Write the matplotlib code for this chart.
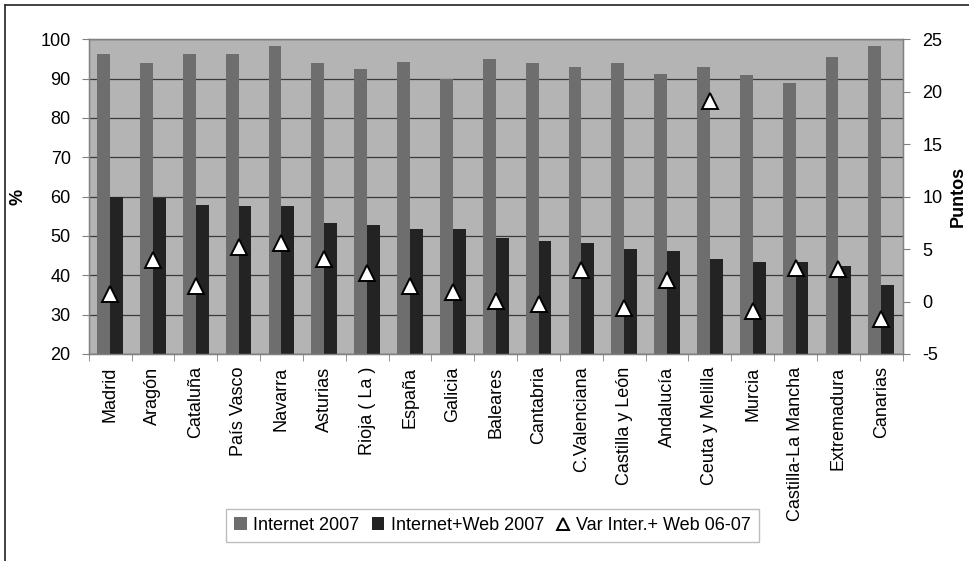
import numpy as np
import matplotlib
matplotlib.use("Agg")
import matplotlib.pyplot as plt
from matplotlib.patches import Patch
from matplotlib.lines import Line2D

# --- 1. Data ---
regiones = ["Madrid", "Aragón", "Cataluña", "País Vasco", "Navarra", "Asturias",
            "Rioja ( La )", "España", "Galicia", "Baleares", "Cantabria",
            "C.Valenciana", "Castilla y León", "Andalucía", "Ceuta y Melilla",
            "Murcia", "Castilla-La Mancha", "Extremadura", "Canarias"]

internet_2007 = [96.3, 93.9, 96.3, 96.3, 98.2, 93.9, 92.4, 94.3, 90.0, 95.0,
                 93.9, 92.9, 93.9, 91.3, 92.9, 90.8, 89.0, 95.5, 98.2]
internet_web_2007 = [60.0, 59.7, 57.9, 57.5, 57.5, 53.2, 52.8, 51.8, 51.8, 49.4,
                     48.8, 48.3, 46.7, 46.3, 44.1, 43.3, 43.3, 42.4, 37.6]
var_06_07 = [0.7, 4.0, 1.5, 5.2, 5.6, 4.1, 2.7, 1.5, 0.9, 0.1,
             -0.2, 3.0, -0.6, 2.1, 19.1, -0.9, 3.2, 3.1, -1.7]

left_ticks = [20, 30, 40, 50, 60, 70, 80, 90, 100]
right_ticks = [-5, 0, 5, 10, 15, 20, 25]

# --- 2. Style ---
plt.rcParams['font.family'] = ['Liberation Sans', 'DejaVu Sans']
plt.rcParams['axes.unicode_minus'] = False
FS = 13
BG = '#b4b4b4'
C_INTERNET = '#6e6e6e'
C_WEB = '#232323'

fig = plt.figure(figsize=(9.7, 5.61), dpi=100)
ax = fig.add_axes([88.7 / 970, 1 - 354 / 561, (902.7 - 88.7) / 970, (354 - 39.3) / 561])
ax.set_facecolor(BG)

x = np.arange(len(regiones))
w = 0.3
ax.bar(x - w / 2, internet_2007, w, color=C_INTERNET, zorder=2)
ax.bar(x + w / 2, internet_web_2007, w, color=C_WEB, zorder=2)

ax.set_xlim(-0.5, len(regiones) - 0.5)
ax.set_ylim(left_ticks[0], left_ticks[-1])
ax.set_yticks(left_ticks)
ax.yaxis.grid(True, color='#3a3a3a', linewidth=0.9, zorder=1)
ax.set_axisbelow(True)

ax.set_xticks(x)
ax.set_xticklabels(regiones, rotation=90, fontsize=FS)
ax.set_xticks(np.arange(-0.5, len(regiones), 1), minor=True)
ax.tick_params(axis='x', which='major', length=0, pad=9)
ax.tick_params(axis='x', which='minor', length=5, color='#808080')
ax.tick_params(axis='y', labelsize=FS, length=5, pad=8, color='#808080')
ax.set_ylabel('%', fontsize=FS, fontweight='bold')
ax.yaxis.set_label_coords((27 - 88.7) / 814, 0.5)

for sp in ax.spines.values():
    sp.set_color('#808080')
    sp.set_linewidth(1.0)

# --- 3. Variation on the right axis ---
ax2 = ax.twinx()
ax2.plot(x, var_06_07, linestyle='none', marker='^', markersize=11,
         markerfacecolor='white', markeredgecolor='black', markeredgewidth=1.4,
         zorder=5)
ax2.set_ylim(right_ticks[0], right_ticks[-1])
ax2.set_yticks(right_ticks)
ax2.tick_params(axis='y', labelsize=FS, length=5, pad=9, color='#808080')
ax2.set_ylabel('Puntos', fontsize=FS, fontweight='bold')
ax2.yaxis.set_label_coords((950 - 88.7) / 814, 0.5)
for sp in ax2.spines.values():
    sp.set_color('#808080')

# --- 4. Legend ---
handles = [
    Patch(facecolor=C_INTERNET, edgecolor='none'),
    Patch(facecolor=C_WEB, edgecolor='none'),
    Line2D([], [], linestyle='none', marker='^', markersize=9,
           markerfacecolor='white', markeredgecolor='black', markeredgewidth=1.4),
]
labels = ['Internet 2007', 'Internet+Web 2007', 'Var Inter.+ Web 06-07']
leg = fig.legend(handles, labels, loc='upper left',
                 bbox_to_anchor=(226 / 970, 1 - 509 / 561), ncol=3,
                 fontsize=FS, frameon=True, fancybox=False, framealpha=1,
                 edgecolor='#bdbdbd', handlelength=0.7, handleheight=0.7,
                 handletextpad=0.35, columnspacing=0.7, borderpad=0.45,
                 borderaxespad=0)
leg.get_frame().set_linewidth(1.0)

# --- 5. Outer chart frame (cropped on right and bottom) ---
fig.add_artist(Line2D([5.5 / 970, 1.0], [1 - 4.5 / 561, 1 - 4.5 / 561],
                      transform=fig.transFigure, color='#333333', linewidth=1.3))
fig.add_artist(Line2D([5.5 / 970, 5.5 / 970], [0.0, 1 - 4.5 / 561],
                      transform=fig.transFigure, color='#333333', linewidth=1.3))

plt.savefig('out.png', dpi=100)
